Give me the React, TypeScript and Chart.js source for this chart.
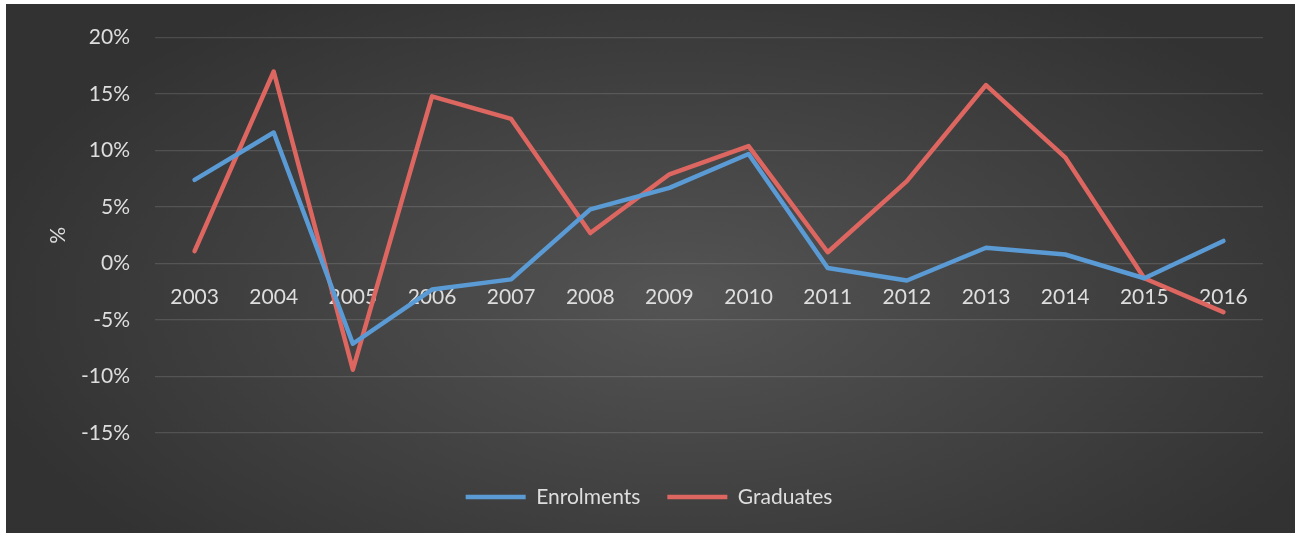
import React, { useEffect, useRef } from "react";
import { Chart, registerables } from "chart.js";

Chart.register(...registerables);

const years = ["2003", "2004", "2005", "2006", "2007", "2008", "2009", "2010", "2011", "2012", "2013", "2014", "2015", "2016"];
const enrolments = [7.4, 11.6, -7.1, -2.3, -1.4, 4.8, 6.7, 9.7, -0.4, -1.5, 1.4, 0.8, -1.3, 2.0];
const graduates = [1.1, 17.0, -9.4, 14.8, 12.8, 2.7, 7.9, 10.4, 1.0, 7.3, 15.8, 9.4, -1.3, -4.3];
const yMin = -15;
const yMax = 20;
const yStep = 5;

const FONT = "Lato, 'Noto Sans', sans-serif";
const TEXT = "#dedede";

const bgPlugin = {
  id: "bg",
  beforeDraw(chart: any) {
    const { ctx, width, height } = chart;
    ctx.save();
    ctx.fillStyle = "#ffffff";
    ctx.fillRect(0, 0, width, height);
    ctx.beginPath();
    ctx.rect(6, 4, 1289, 529);
    ctx.clip();
    ctx.translate(680, 300);
    ctx.scale(1, 0.5);
    const g = ctx.createRadialGradient(0, 0, 0, 0, 0, 720);
    g.addColorStop(0, "#545454");
    g.addColorStop(1, "#323232");
    ctx.fillStyle = g;
    ctx.fillRect(-900, -800, 1800, 1600);
    ctx.restore();
  },
};

export default function App() {
  const ref = useRef<HTMLCanvasElement>(null);
  useEffect(() => {
    if (!ref.current) return;
    const chart = new Chart(ref.current, {
      type: "line",
      data: {
        labels: years,
        datasets: [
          {
            label: "Enrolments",
            data: enrolments,
            borderColor: "#5b9bd5",
            backgroundColor: "#5b9bd5",
            borderWidth: 4.5,
            pointRadius: 0,
            tension: 0,
            borderJoinStyle: "round",
            borderCapStyle: "round",
          },
          {
            label: "Graduates",
            data: graduates,
            borderColor: "#de6660",
            backgroundColor: "#de6660",
            borderWidth: 4.5,
            pointRadius: 0,
            tension: 0,
            borderJoinStyle: "round",
            borderCapStyle: "round",
          },
        ],
      },
      options: {
        animation: false,
        responsive: false,
        maintainAspectRatio: false,
        layout: { padding: { left: 0, right: 0, top: 33, bottom: 18.5 } },
        plugins: {
          tooltip: { enabled: false },
          legend: {
            position: "bottom",
            align: "center",
            title: { display: true, text: "", font: { size: 10, lineHeight: 1 }, padding: { top: 16.5, bottom: 0 } },
            labels: {
              usePointStyle: true,
              pointStyle: "line",
              pointStyleWidth: 60,
              color: TEXT,
              font: { family: FONT, size: 21 },
              padding: 27,
            },
          },
        },
        scales: {
          x: {
            type: "category",
            position: { y: 0 },
            offset: true,
            grid: { display: false, drawTicks: false },
            border: { display: false },
            ticks: {
              color: TEXT,
              font: { family: FONT, size: 21 },
              padding: 21,
              maxRotation: 0,
              autoSkip: false,
            },
            afterFit: (s: any) => {
              s.height = 0;
            },
          },
          y: {
            position: "left",
            min: yMin,
            max: yMax,
            grid: { color: "rgba(255,255,255,0.13)", lineWidth: 1.2, drawTicks: false },
            border: { display: false },
            ticks: {
              stepSize: yStep,
              color: TEXT,
              font: { family: FONT, size: 21 },
              padding: 25,
              callback: (v: any) => v + "%",
            },
            title: {
              display: true,
              text: "%",
              color: TEXT,
              font: { family: FONT, size: 21 },
              padding: { top: 45.4, bottom: 0 },
            },
            afterFit: (s: any) => {
              s.width = 155;
            },
          },
          yRight: {
            position: "right",
            display: true,
            grid: { display: false, drawTicks: false },
            border: { display: false },
            ticks: { display: false },
            afterFit: (s: any) => {
              s.width = 35;
            },
          },
        },
      },
      plugins: [bgPlugin],
    } as any);
    return () => chart.destroy();
  }, []);
  return (
    <div style={{ position: "fixed", left: 0, top: 0, width: 1298, height: 536 }}>
      <canvas ref={ref} width={1298} height={536} style={{ width: 1298, height: 536, display: "block" }} />
    </div>
  );
}
